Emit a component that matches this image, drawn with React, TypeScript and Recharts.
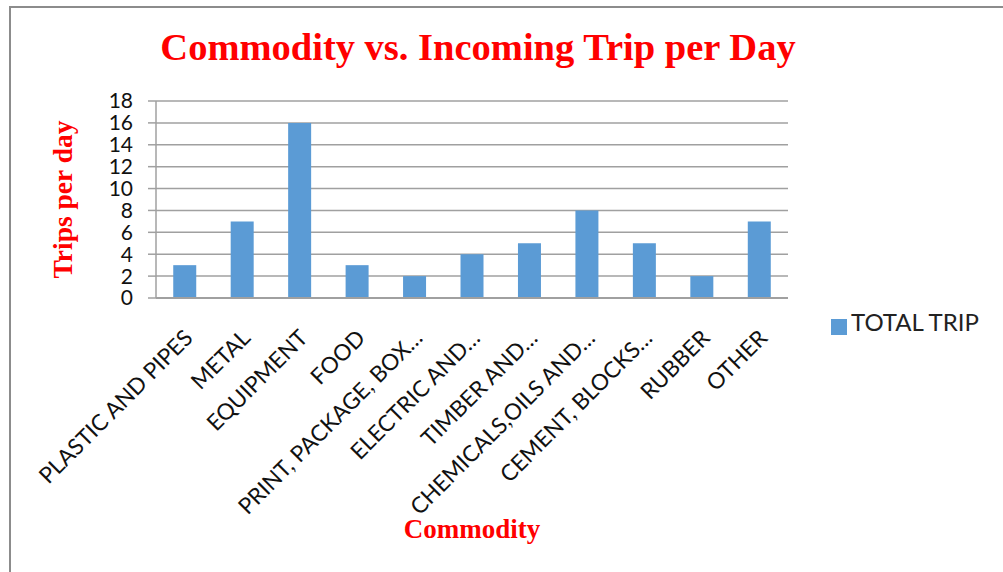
import { BarChart, Bar, XAxis, YAxis, CartesianGrid, Legend, Label } from 'recharts'

const commodities = [
  'PLASTIC AND PIPES',
  'METAL',
  'EQUIPMENT',
  'FOOD',
  'PRINT, PACKAGE, BOX…',
  'ELECTRIC AND…',
  'TIMBER AND…',
  'CHEMICALS,OILS AND…',
  'CEMENT, BLOCKS…',
  'RUBBER',
  'OTHER',
]
const totalTrips = [3, 7, 16, 3, 2, 4, 5, 8, 5, 2, 7]
const yTicks = [0, 2, 4, 6, 8, 10, 12, 14, 16, 18]

const data = commodities.map((name, i) => ({ name, total: totalTrips[i] }))

const tickFont = 'Lato, "Open Sans", sans-serif'
const serif = '"Liberation Serif", "Times New Roman", serif'

function AngledTick(props: any) {
  const { x, y, payload } = props
  return (
    <g transform={`translate(${x - 3},${y + 21})`}>
      <text
        transform="rotate(-45)"
        textAnchor="end"
        dominantBaseline="hanging"
        fontFamily={tickFont}
        fontSize={22.5}
        fill="#111"
      >
        {payload.value}
      </text>
    </g>
  )
}

export default function App() {
  return (
    <div style={{ position: 'absolute', left: 0, top: 0, width: 1003, height: 572, background: '#fff' }}>
      <div
        style={{
          position: 'absolute',
          left: 9,
          top: 6,
          right: 0,
          bottom: 0,
          borderTop: '2px solid #8c8c8c',
          borderLeft: '2px solid #8c8c8c',
        }}
      />
      <div
        style={{
          position: 'absolute',
          left: 0,
          width: 956,
          top: 25,
          textAlign: 'center',
          fontFamily: serif,
          fontWeight: 'bold',
          fontSize: 38.5,
          lineHeight: '44px',
          color: '#ff0000',
        }}
      >
        Commodity vs. Incoming Trip per Day
      </div>
      <div style={{ position: 'absolute', left: 0, top: 0 }}>
        <BarChart
          width={1003}
          height={572}
          data={data}
          margin={{ top: 101, right: 215, left: 46, bottom: 24 }}
          barCategoryGap="30%"
        >
          <CartesianGrid vertical={false} stroke="#a0a0a0" strokeWidth={1.5} />
          <XAxis
            dataKey="name"
            interval={0}
            height={250}
            tick={<AngledTick />}
            tickLine={false}
            axisLine={{ stroke: '#a0a0a0', strokeWidth: 2 }}
          >
            <Label
              content={(p: any) => {
                const vb = p.viewBox
                return (
                  <text
                    x={vb.x + vb.width / 2}
                    y={vb.y + vb.height - 10}
                    textAnchor="middle"
                    fontFamily={serif}
                    fontWeight="bold"
                    fontSize={27}
                    fill="#ff0000"
                  >
                    Commodity
                  </text>
                )
              }}
            />
          </XAxis>
          <YAxis
            width={110}
            domain={[0, 18]}
            ticks={yTicks}
            interval={0}
            tickSize={8}
            tickMargin={15}
            tick={{ fontFamily: tickFont, fontSize: 21, fill: '#111' }}
            tickLine={{ stroke: '#a0a0a0', strokeWidth: 1.5 }}
            axisLine={{ stroke: '#a0a0a0', strokeWidth: 1.5 }}
          >
            <Label
              content={(p: any) => {
                const vb = p.viewBox
                const cx = vb.x + 16
                const cy = vb.y + vb.height / 2
                return (
                  <text
                    x={cx}
                    y={cy}
                    transform={`rotate(-90 ${cx} ${cy})`}
                    textAnchor="middle"
                    dominantBaseline="central"
                    fontFamily={serif}
                    fontWeight="bold"
                    fontSize={27.5}
                    fill="#ff0000"
                  >
                    Trips per day
                  </text>
                )
              }}
            />
          </YAxis>
          <Legend
            layout="vertical"
            align="center"
            verticalAlign="middle"
            iconType="square"
            iconSize={16}
            wrapperStyle={{ position: 'absolute', left: 831, top: 307, width: 172 }}
            formatter={(value: string) => (
              <span style={{ color: '#222', fontFamily: tickFont, fontSize: 24 }}>{value}</span>
            )}
          />
          <Bar dataKey="total" name="TOTAL TRIP" fill="#5b9bd5" isAnimationActive={false} />
        </BarChart>
      </div>
    </div>
  )
}
